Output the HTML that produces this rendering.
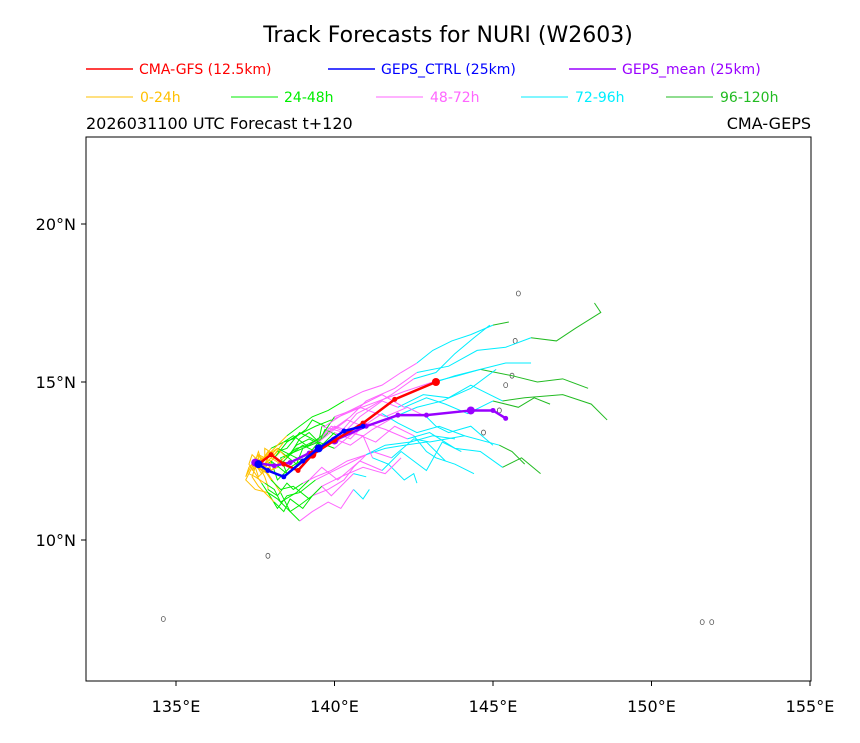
<!DOCTYPE html>
<html><head><meta charset="utf-8"><style>
body{margin:0;background:#fff;}
svg text{font-family:"DejaVu Sans","Liberation Sans",sans-serif;}
</style></head><body>
<svg id="chart" width="860" height="738" viewBox="0 0 860 738" xmlns="http://www.w3.org/2000/svg">
<text x="448" y="42" font-size="22" text-anchor="middle">Track Forecasts for NURI (W2603)</text>
<g>
<line x1="86" y1="69" x2="133" y2="69" stroke="#ff0000" stroke-width="1.5"/><text x="139" y="74" font-size="14" fill="#ff0000">CMA-GFS (12.5km)</text>
<line x1="328" y1="69" x2="375" y2="69" stroke="#0000ff" stroke-width="1.5"/><text x="381" y="74" font-size="14" fill="#0000ff">GEPS_CTRL (25km)</text>
<line x1="569" y1="69" x2="616" y2="69" stroke="#9900ff" stroke-width="1.5"/><text x="622" y="74" font-size="14" fill="#9900ff">GEPS_mean (25km)</text>
<line x1="86" y1="97" x2="133" y2="97" stroke="#ffc000" stroke-width="1"/><text x="140" y="102" font-size="14" fill="#ffc000">0-24h</text>
<line x1="231" y1="97" x2="278" y2="97" stroke="#00ee00" stroke-width="1"/><text x="284" y="102" font-size="14" fill="#00ee00">24-48h</text>
<line x1="376" y1="97" x2="423" y2="97" stroke="#ff66ff" stroke-width="1"/><text x="430" y="102" font-size="14" fill="#ff66ff">48-72h</text>
<line x1="521" y1="97" x2="568" y2="97" stroke="#00eeff" stroke-width="1"/><text x="575" y="102" font-size="14" fill="#00eeff">72-96h</text>
<line x1="666" y1="97" x2="713" y2="97" stroke="#22bb22" stroke-width="1"/><text x="720" y="102" font-size="14" fill="#22bb22">96-120h</text>
</g>
<text x="86" y="129" font-size="16">2026031100 UTC Forecast t+120</text>
<text x="811" y="129" font-size="16" text-anchor="end">CMA-GEPS</text>
<defs><clipPath id="pc"><rect x="86" y="137" width="725" height="544"/></clipPath></defs>
<g id="islands" clip-path="url(#pc)" fill="none" stroke="#555" stroke-width="0.8"></g>
<g id="members" clip-path="url(#pc)" fill="none"></g>
<g id="dets" clip-path="url(#pc)"></g>
<rect x="86" y="137" width="725" height="544" fill="none" stroke="#000" stroke-width="1"/>
<g id="axes"></g>
</svg>
<script>
const lonTicks=[135,140,145,150,155];
const latTicks=[10,15,20];
const lonLabels=["135°E","140°E","145°E","150°E","155°E"];
const latLabels=["10°N","15°N","20°N"];
const gfsLon=[137.6,138.0,138.4,138.85,139.3,140.0,140.9,141.9,143.2];
const gfsLat=[12.4,12.7,12.4,12.2,12.7,13.15,13.7,14.45,15.0];
const ctrlLon=[137.6,137.9,138.4,139.0,139.5,140.3,140.9];
const ctrlLat=[12.4,12.2,12.0,12.5,12.9,13.45,13.6];
const meanLon=[137.5,138.1,138.6,139.2,140.0,141.0,142.0,142.9,144.3,145.0,145.4];
const meanLat=[12.45,12.35,12.45,12.75,13.15,13.6,13.95,13.95,14.1,14.1,13.85];
// 6-hourly points (index 0..20): 0-4 => 0-24h, 4-8 => 24-48h, 8-12 => 48-72h, 12-16 => 72-96h, 16-20 => 96-120h
const memberLon=[
[137.5,137.3,137.2,137.4,137.7,138.0,138.5,138.3,139.0,139.4,140.0,140.6,141.3,142.0,142.9,143.8,144.6,145.6,146.4,147.2,148.0],
[137.6,137.8,137.7,138.0,138.3,138.8,139.0,139.5,139.6,140.3,140.8,141.5,142.0,142.8,143.6,144.3,145.3,146.0,147.2,148.1,148.6],
[137.4,137.5,137.6,137.9,138.0,138.2,138.6,139.1,139.5,140.0,140.5,141.2,141.9,142.6,143.4,144.3,145.1],
[137.7,137.6,137.5,137.8,138.2,138.5,138.9,139.5,139.8,140.5,141.0,141.9,142.6,143.6,144.5,145.4,146.2,147.0,147.6,148.4,148.2],
[137.5,137.7,137.8,137.9,137.9,138.2,138.5,138.7,139.0,139.4,139.9,140.4,141.0,141.6,142.2,142.9,143.5],
[137.6,137.4,137.3,137.5,137.8,138.1,138.3,138.8,139.2,139.6,140.1,140.8,141.5,142.1,142.9,143.4,144.0],
[137.5,137.7,138.0,138.3,138.6,139.0,139.4,139.7,140.1,140.7,141.1,141.8,142.5,143.2,143.8,144.4,144.9],
[137.4,137.3,137.2,137.5,137.9,138.2,138.5,138.9,139.4,140.0,140.6,141.2,141.8,142.5,143.0,144.1,145.2,145.6,146.0],
[137.6,137.6,137.7,137.9,138.1,138.5,138.8,139.4,139.9,140.6,141.4,142.2,143.1,143.9,144.6,145.4,146.2],
[137.5,137.7,137.9,138.1,138.3,138.4,138.6,138.9,139.3,139.8,140.3,140.6,141.0,141.6,142.4,143.1,143.8],
[137.7,137.5,137.4,137.7,138.0,138.4,138.7,139.1,139.5,139.9,140.4,140.9,141.2,141.7,142.2,142.5,142.6],
[137.5,137.5,137.6,138.0,138.4,138.8,139.2,139.6,140.0,140.8,141.6,142.3,142.9,143.2,143.6,144.3,145.0],
[137.6,137.4,137.3,137.5,137.7,137.9,138.2,138.5,138.9,139.3,139.8,140.2,140.6,140.9,141.1],
[137.5,137.7,137.9,138.0,138.2,138.6,139.0,139.5,140.0,140.6,141.3,141.9,142.5,142.9,143.2,143.8,144.4],
[137.6,137.8,137.8,138.1,138.4,138.7,139.1,139.3,139.7,140.3,140.9,141.5,142.2,142.9,143.5,144.2,145.0,145.8,146.3,146.8],
[137.5,137.4,137.6,137.9,138.1,138.4,138.6,139.0,139.3,139.6,139.9,140.3,140.6,141.0],
[137.4,137.6,137.8,138.1,138.5,138.9,139.3,139.8,140.3,140.9,141.5,142.1,142.6,143.1,143.7,144.3,145.0,145.5],
[137.6,137.5,137.6,137.8,138.0,138.3,138.7,139.2,139.6,140.2,140.9,141.6,142.1],
[137.5,137.6,137.7,137.9,138.2,138.6,138.9,139.2,139.5,140.0,140.4,140.9,141.5,142.0,142.6,143.3,144.1],
[137.6,137.7,137.9,138.2,138.5,138.8,139.2,139.6,140.0,140.5,141.0,141.6,142.3,143.0,143.8,144.6,145.3,145.9,146.5]];
const memberLat=[
[12.5,12.3,12.0,12.4,12.2,12.5,12.1,12.6,12.9,13.1,13.6,13.4,14.0,14.5,14.9,15.2,15.4,15.2,15.0,15.1,14.8],
[12.4,12.2,12.6,12.5,12.8,12.4,12.9,13.1,13.6,13.4,13.9,14.4,14.2,14.6,14.5,14.9,14.4,14.5,14.6,14.3,13.8],
[12.3,12.6,12.4,12.2,12.5,11.9,12.3,12.6,12.8,13.2,13.0,13.5,13.9,14.2,14.4,14.8,15.4],
[12.5,12.8,12.5,12.4,12.8,12.9,13.4,13.1,13.4,13.9,14.4,14.8,15.3,15.5,16.0,16.1,16.4,16.3,16.7,17.2,17.5],
[12.4,12.2,12.0,11.7,11.6,11.4,11.8,11.6,11.8,12.0,12.2,12.5,12.7,12.9,13.0,13.1,12.5],
[12.6,12.3,12.1,12.0,11.8,11.6,11.2,11.5,11.9,12.3,11.9,12.5,12.2,12.8,12.2,13.1,12.8],
[12.4,12.3,12.6,12.4,12.7,13.0,12.8,13.5,13.3,14.0,14.2,14.6,15.1,15.3,15.9,16.4,16.8],
[12.3,12.1,11.9,11.6,11.5,11.0,11.4,11.5,11.9,12.2,12.5,12.8,12.6,13.2,13.1,13.3,13.0,12.8,12.4],
[12.5,12.7,12.5,12.8,12.6,13.1,13.3,13.6,13.8,14.1,14.4,14.7,15.0,15.2,15.4,15.6,15.6],
[12.4,12.2,12.1,11.8,11.5,11.3,10.9,11.1,11.4,11.6,11.9,12.3,12.7,13.0,13.1,13.3,13.2],
[12.6,12.4,12.2,12.5,12.9,13.1,13.3,13.0,13.2,13.6,13.4,13.3,12.6,12.4,11.9,12.1,11.8],
[12.4,12.6,12.5,12.2,12.6,12.9,13.0,13.3,13.9,14.2,13.9,14.2,13.9,13.6,13.4,13.6,13.0],
[12.5,12.7,12.4,12.1,11.8,11.5,11.3,11.0,10.6,10.9,11.2,11.0,11.6,11.3,11.6],
[12.4,12.1,12.5,12.2,12.3,12.7,12.5,13.1,12.9,13.4,13.1,13.6,13.3,12.8,12.6,12.4,12.1],
[12.5,12.6,12.9,12.7,13.1,13.2,13.5,13.8,13.6,14.0,14.3,14.6,14.2,14.5,14.3,14.0,14.4,14.2,14.5,14.3,13.9],
[12.3,12.0,11.7,11.4,11.2,10.9,11.3,11.0,11.4,11.7,11.4,11.8,12.1,12.0],
[12.4,12.7,12.6,12.9,13.3,13.6,13.9,14.1,14.4,14.7,14.9,15.3,15.6,16.0,16.3,16.5,16.8,16.9],
[12.6,12.3,12.0,12.2,11.9,11.6,11.7,11.3,11.7,12.0,12.3,12.1,12.6],
[12.4,12.5,12.2,12.6,12.9,12.7,13.2,13.4,13.1,13.5,13.8,13.6,14.0,13.7,13.4,13.6,13.3],
[12.5,12.4,12.7,12.9,12.6,13.0,13.2,13.0,13.4,13.2,13.7,13.5,13.2,13.4,12.9,12.8,12.3,12.6,12.1,12.2,11.7]];
const segColors=["#ffc000","#00ee00","#ff66ff","#00eeff","#22bb22"];
const islandLon=[134.6,137.9,144.7,145.2,145.4,145.6,145.7,145.8,151.6,151.9];
const islandLat=[7.5,9.5,13.4,14.1,14.9,15.2,16.3,17.8,7.4,7.4];
const X=lon=>176+(lon-135)*31.7;
const Y=lat=>382-(lat-15)*31.6;
const NS="http://www.w3.org/2000/svg";
function mk(t,a,p){const e=document.createElementNS(NS,t);for(const k in a)e.setAttribute(k,a[k]);p.appendChild(e);return e;}
const axes=document.getElementById('axes');
lonTicks.forEach((v,i)=>{
 const l=mk('line',{x1:X(v),x2:X(v),y1:681,y2:686,stroke:'#000'},axes);
 
 
 const t=mk('text',{x:X(v),y:712,'font-size':16,'text-anchor':'middle'},axes);t.textContent=lonLabels[i];
 
 
});
latTicks.forEach((v,i)=>{
 const l=mk('line',{x1:81,x2:86,y1:Y(v),y2:Y(v),stroke:'#000'},axes);
 
 
 const t=mk('text',{x:76,y:Y(v)+6,'font-size':16,'text-anchor':'end'},axes);t.textContent=latLabels[i];
 
 
});
const isl=document.getElementById('islands');
islandLon.forEach((v,i)=>{
 const e=mk('ellipse',{cx:X(v),cy:Y(islandLat[i]),rx:2,ry:2.5},isl);
 
 
});
const mem=document.getElementById('members');
memberLon.forEach((lons,m)=>{
 const lats=memberLat[m];
 for(let s=0;s<5;s++){
  const pts=[];
  for(let k=s*4;k<=s*4+4&&k<lons.length;k++)pts.push(X(lons[k])+','+Y(lats[k]));
  if(pts.length<2)continue;
  const p=mk('polyline',{points:pts.join(' '),stroke:segColors[s],'stroke-width':1},mem);
  
  
 }
});
const dets=document.getElementById('dets');
function det(lons,lats,c,name){
 const p=mk('polyline',{points:lons.map((v,i)=>X(v)+','+Y(lats[i])).join(' '),stroke:c,'stroke-width':2.5,fill:'none'},dets);
 
 
 lons.forEach((v,i)=>{
  const c2=mk('circle',{cx:X(v),cy:Y(lats[i]),r:i%4===0?4:2.5,fill:c},dets);
  
  
 });
}
det(meanLon,meanLat,'#9900ff','geps-mean-track');
det(gfsLon,gfsLat,'#ff0000','cma-gfs-track');
det(ctrlLon,ctrlLat,'#0000ff','geps-ctrl-track');
</script>
</body></html>
